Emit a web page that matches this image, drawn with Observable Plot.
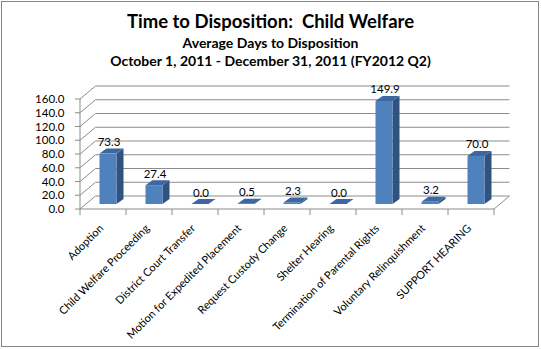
<!DOCTYPE html>
<html>
<head>
<meta charset="utf-8">
<script src="https://cdn.jsdelivr.net/npm/d3@7"></script>
<script src="https://cdn.jsdelivr.net/npm/@observablehq/plot@0.6"></script>
<style>
  html, body { margin: 0; padding: 0; background: #fff; }
  #page { position: relative; width: 541px; height: 349px; overflow: hidden; font-family: Lato, "Noto Sans", sans-serif; }
  #frame { position: absolute; left: 1px; top: 1px; width: 538px; height: 346px; box-sizing: border-box; border: 1px solid #868686; pointer-events: none; }
  #header { position: relative; height: 76px; }
  #header div { position: absolute; left: 0; width: 541px; text-align: center; font-weight: bold; color: #000; white-space: pre; line-height: 1.2; }
  #t1 { top: 10px; font-size: 18.5px; }
  #t2 { top: 35px; font-size: 14px; }
  #t3 { top: 53px; font-size: 14px; }
  #chart svg { display: block; }
</style>
</head>
<body>
<div id="page">
  <div id="header">
    <div id="t1">Time to Disposition:  Child Welfare</div>
    <div id="t2">Average Days to Disposition</div>
    <div id="t3">October 1, 2011 - December 31, 2011 (FY2012 Q2)</div>
  </div>
  <div id="chart"></div>
  <div id="frame"></div>
</div>
<script>
const categories = [
  "Adoption",
  "Child Welfare Proceeding",
  "District Court Transfer",
  "Motion for Expedited Placement",
  "Request Custody Change",
  "Shelter Hearing",
  "Termination of Parental Rights",
  "Voluntary Relinquishment",
  "SUPPORT HEARING"
];
const values = [73.3, 27.4, 0.0, 0.5, 2.3, 0.0, 149.9, 3.2, 70.0];
const yTicks = [0, 20, 40, 60, 80, 100, 120, 140, 160];

const data = categories.map((c, i) => ({category: c, value: values[i]}));

// 3-D geometry (pixels)
const WALL_DX = 15.5, WALL_DY = -13;   // depth of the back wall
const BAR_DX = 5, BAR_DY = -5;         // bar front face offset
const SIDE_DX = 7, SIDE_DY = -5;       // bar depth
const BAR_INSET = 14.5;
const GRID = "#8c8c8c";

function bandInfo(x) {
  return x.bandwidth ? x.bandwidth() : (x(categories[1]) - x(categories[0]));
}

function walls(index, scales) {
  const {x, y} = scales;
  const bw = bandInfo(x);
  const x0 = x(categories[0]);
  const x1 = x(categories[categories.length - 1]) + bw;
  const y0 = y(0);
  const g = d3.create("svg:g").attr("fill", "none").attr("stroke", GRID).attr("stroke-width", 1);
  for (const v of yTicks) {
    const yy = y(v);
    g.append("line").attr("x1", x0 + WALL_DX).attr("x2", x1 + WALL_DX).attr("y1", yy + WALL_DY).attr("y2", yy + WALL_DY);
    g.append("line").attr("x1", x0).attr("x2", x0 + WALL_DX).attr("y1", yy).attr("y2", yy + WALL_DY);
    g.append("line").attr("x1", x0 - 5).attr("x2", x0).attr("y1", yy).attr("y2", yy);
  }
  g.append("line").attr("x1", x0).attr("x2", x1).attr("y1", y0).attr("y2", y0);
  g.append("line").attr("x1", x1).attr("x2", x1 + WALL_DX).attr("y1", y0).attr("y2", y0 + WALL_DY);
  g.append("line").attr("x1", x0).attr("x2", x0).attr("y1", y0).attr("y2", y(yTicks[yTicks.length - 1]));
  for (let i = 0; i <= categories.length; i++) {
    const xx = x0 + i * bw;
    g.append("line").attr("x1", xx).attr("x2", xx).attr("y1", y0).attr("y2", y0 + 6);
  }
  return g.node();
}

function barFaces(index, scales) {
  const {x, y} = scales;
  const bw = bandInfo(x);
  const g = d3.create("svg:g");
  for (const d of data) {
    const xl = x(d.category) + BAR_INSET + BAR_DX;
    const xr = x(d.category) + bw - BAR_INSET + BAR_DX;
    const yt = y(d.value) + BAR_DY;
    const yb = y(0) + BAR_DY;
    g.append("polygon")
      .attr("points", [[xr, yt], [xr + SIDE_DX, yt + SIDE_DY], [xr + SIDE_DX, yb + SIDE_DY], [xr, yb]].map(p => p.join(",")).join(" "))
      .attr("fill", "#30527f");
    g.append("polygon")
      .attr("points", [[xl, yt], [xr, yt], [xr + SIDE_DX, yt + SIDE_DY], [xl + SIDE_DX, yt + SIDE_DY]].map(p => p.join(",")).join(" "))
      .attr("fill", "#3d67a0");
  }
  return g.node();
}

const chart = Plot.plot({
  width: 541,
  height: 273,
  marginLeft: 77,
  marginRight: 44.5,
  marginTop: 23,
  marginBottom: 140,
  style: {fontFamily: "Lato, 'Noto Sans', sans-serif", fontSize: "11px", background: "transparent", color: "#000", overflow: "visible"},
  x: {type: "band", domain: categories, padding: 0, axis: null},
  y: {domain: [0, 160], label: null},
  marks: [
    walls,
    barFaces,
    Plot.barY(data, {x: "category", y: "value", fill: "#4f81bd", insetLeft: BAR_INSET, insetRight: BAR_INSET, dx: BAR_DX, dy: BAR_DY}),
    Plot.text(data, {x: "category", y: "value", text: d => d.value.toFixed(1), dx: 5.5, dy: -13, lineAnchor: "bottom", fill: "#000", fontSize: 11.5}),
    Plot.axisY({ticks: yTicks, tickFormat: d => d.toFixed(1), tickSize: 0, tickPadding: 13, fontSize: 11.5, fill: "#000", label: null}),
    Plot.text(categories, {x: d => d, frameAnchor: "bottom", rotate: -45, textAnchor: "end", lineAnchor: "middle", dx: -2, dy: 17, fontSize: 11, fill: "#000"})
  ]
});
document.getElementById("chart").append(chart);
</script>
</body>
</html>
